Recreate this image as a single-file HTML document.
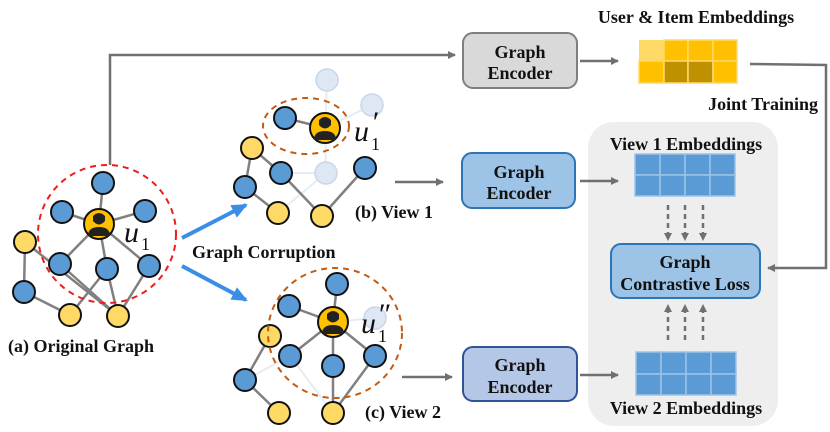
<!DOCTYPE html>
<html><head><meta charset="utf-8"><style>
html,body{margin:0;padding:0;background:#fff;}
svg{display:block;font-family:"Liberation Serif",serif;}
.b{font-weight:bold;font-size:18px;fill:#111;}
.u{font-size:30px;font-style:italic;fill:#111;}
.s{font-size:18px;fill:#111;}
</style></head><body>
<svg width="830" height="432" viewBox="0 0 830 432" xmlns="http://www.w3.org/2000/svg">
<defs>
<marker id="ar" markerWidth="8" markerHeight="8" refX="7" refY="4" orient="auto" markerUnits="userSpaceOnUse"><path d="M0,0 L8,4 L0,8 z" fill="#707070"/></marker>
<marker id="bl" markerWidth="16" markerHeight="14" refX="14" refY="7" orient="auto" markerUnits="userSpaceOnUse"><path d="M0,0 L16,7 L0,14 z" fill="#3a8ee6"/></marker>
<g id="user"><circle r="15" fill="#ffc000" stroke="#111" stroke-width="2"/><path d="M-6,-8 q6,-6 12,0 v5 q-6,7 -12,0z" fill="#222"/><path d="M-11,12 q0,-9 11,-9 q11,0 11,9 z" fill="#222"/></g>
</defs>
<rect x="588" y="122" width="190" height="304" rx="26" fill="#eeeeee"/>
<g stroke="#707070" stroke-width="2.5" fill="none">
<path d="M110 165 V55 H455" marker-end="url(#ar)"/>
<path d="M580 61 H618" marker-end="url(#ar)"/>
<path d="M750 64 L826 65 V268 H768" marker-end="url(#ar)"/>
<path d="M395 182 H443" marker-end="url(#ar)"/>
<path d="M580 181 H618" marker-end="url(#ar)"/>
<path d="M402 377 H452" marker-end="url(#ar)"/>
<path d="M580 375 H618" marker-end="url(#ar)"/>
<g stroke-dasharray="5,4"><path d="M668 205 V240" marker-end="url(#ar)"/><path d="M685 205 V240" marker-end="url(#ar)"/><path d="M703 205 V240" marker-end="url(#ar)"/>
<path d="M668 340 V305" marker-end="url(#ar)"/><path d="M685 340 V305" marker-end="url(#ar)"/><path d="M703 340 V305" marker-end="url(#ar)"/></g>
</g>
<path d="M182 238 L246 205" stroke="#3a8ee6" stroke-width="4" marker-end="url(#bl)"/>
<path d="M182 266 L246 300" stroke="#3a8ee6" stroke-width="4" marker-end="url(#bl)"/>
<rect x="463" y="33" width="114" height="55" rx="10" fill="#d9d9d9" stroke="#7f7f7f" stroke-width="2"/>
<text class="b" x="520" y="58" text-anchor="middle">Graph</text><text class="b" x="520" y="79" text-anchor="middle">Encoder</text>
<rect x="462" y="153" width="113" height="55" rx="10" fill="#9dc3e6" stroke="#2e75b6" stroke-width="2"/>
<text class="b" x="519" y="178" text-anchor="middle">Graph</text><text class="b" x="519" y="199" text-anchor="middle">Encoder</text>
<rect x="463" y="347" width="114" height="54" rx="10" fill="#b4c7e7" stroke="#2f5597" stroke-width="2"/>
<text class="b" x="520" y="371" text-anchor="middle">Graph</text><text class="b" x="520" y="393" text-anchor="middle">Encoder</text>
<rect x="611" y="244" width="149" height="54" rx="10" fill="#9dc3e6" stroke="#2e75b6" stroke-width="2"/>
<text class="b" x="685" y="268" text-anchor="middle">Graph</text><text class="b" x="685" y="290" text-anchor="middle">Contrastive Loss</text>
<g stroke-width="1.5">
<rect x="639" y="40" width="98" height="43" fill="#ffd966"/>
<g stroke="#ffd966"><rect x="664" y="40" width="24" height="21" fill="#ffc000"/><rect x="688" y="40" width="25" height="21" fill="#ffc000"/><rect x="713" y="40" width="24" height="21" fill="#ffc000"/>
<rect x="639" y="61" width="25" height="22" fill="#ffc000"/><rect x="664" y="61" width="24" height="22" fill="#bf9000"/><rect x="688" y="61" width="25" height="22" fill="#bf9000"/><rect x="713" y="61" width="24" height="22" fill="#ffc000"/></g>
<g fill="#5b9bd5" stroke="#9dc3e6">
<rect x="635" y="154" width="25" height="21"/><rect x="660" y="154" width="25" height="21"/><rect x="685" y="154" width="25" height="21"/><rect x="710" y="154" width="25" height="21"/>
<rect x="635" y="175" width="25" height="21"/><rect x="660" y="175" width="25" height="21"/><rect x="685" y="175" width="25" height="21"/><rect x="710" y="175" width="25" height="21"/>
<rect x="636" y="352" width="25" height="22"/><rect x="661" y="352" width="25" height="22"/><rect x="686" y="352" width="25" height="22"/><rect x="711" y="352" width="25" height="22"/>
<rect x="636" y="374" width="25" height="21"/><rect x="661" y="374" width="25" height="21"/><rect x="686" y="374" width="25" height="21"/><rect x="711" y="374" width="25" height="21"/></g>
</g>
<text class="b" x="696" y="23" text-anchor="middle">User &amp; Item Embeddings</text>
<text class="b" x="818" y="110" text-anchor="end">Joint Training</text>
<text class="b" x="686" y="150" text-anchor="middle">View 1 Embeddings</text>
<text class="b" x="686" y="414" text-anchor="middle">View 2 Embeddings</text>
<text class="b" x="8" y="352">(a) Original Graph</text>
<text class="b" x="192" y="258">Graph Corruption</text>
<text class="b" x="355" y="218">(b) View 1</text>
<text class="b" x="365" y="418">(c) View 2</text>
<g stroke="#808080" stroke-width="2.5">
<line x1="103" y1="183" x2="99" y2="224"/><line x1="62" y1="212" x2="99" y2="224"/><line x1="145" y1="211" x2="99" y2="224"/>
<line x1="99" y1="224" x2="60" y2="264"/><line x1="99" y1="224" x2="107" y2="269"/><line x1="99" y1="224" x2="149" y2="266"/>
<line x1="25" y1="242" x2="24" y2="292"/><line x1="25" y1="242" x2="118" y2="316"/><line x1="24" y1="292" x2="70" y2="315"/>
<line x1="60" y1="264" x2="118" y2="316"/><line x1="107" y1="269" x2="70" y2="315"/><line x1="107" y1="269" x2="118" y2="316"/><line x1="149" y1="266" x2="118" y2="316"/>
</g>
<circle cx="107" cy="234" r="69" fill="none" stroke="#ee1c1c" stroke-width="2" stroke-dasharray="6,5"/>
<g stroke="#111" stroke-width="2">
<g fill="#5b9bd5"><circle cx="103" cy="183" r="11"/><circle cx="62" cy="212" r="11"/><circle cx="145" cy="211" r="11"/><circle cx="60" cy="264" r="11"/><circle cx="107" cy="269" r="11"/><circle cx="149" cy="266" r="11"/><circle cx="24" cy="292" r="11"/></g>
<g fill="#ffd966"><circle cx="25" cy="242" r="11"/><circle cx="70" cy="315" r="11"/><circle cx="118" cy="316" r="11"/></g>
</g>
<use href="#user" x="99" y="224"/>
<text class="u" x="124" y="242">u</text><text class="s" x="141" y="250">1</text>
<g stroke="#e6ecf3" stroke-width="2"><line x1="325" y1="128" x2="327" y2="80"/><line x1="325" y1="128" x2="372" y2="105"/><line x1="325" y1="128" x2="326" y2="173"/><line x1="326" y1="173" x2="281" y2="173"/><line x1="326" y1="173" x2="278" y2="213"/></g>
<g fill="#dde8f4" stroke="#c8d6e6" stroke-width="1.5"><circle cx="327" cy="80" r="11"/><circle cx="372" cy="105" r="11"/><circle cx="326" cy="173" r="11"/></g>
<g stroke="#808080" stroke-width="2.5"><line x1="252" y1="148" x2="245" y2="187"/><line x1="252" y1="148" x2="281" y2="173"/><line x1="245" y1="187" x2="278" y2="213"/><line x1="281" y1="173" x2="322" y2="216"/><line x1="322" y1="216" x2="365" y2="168"/><line x1="285" y1="118" x2="325" y2="128"/></g>
<ellipse cx="306" cy="126" rx="43" ry="28" fill="none" stroke="#c55a11" stroke-width="2" stroke-dasharray="6,5"/>
<g stroke="#111" stroke-width="2"><g fill="#5b9bd5"><circle cx="285" cy="118" r="11"/><circle cx="281" cy="173" r="11"/><circle cx="245" cy="187" r="11"/><circle cx="365" cy="168" r="11"/></g>
<g fill="#ffd966"><circle cx="252" cy="148" r="11"/><circle cx="278" cy="213" r="11"/><circle cx="322" cy="216" r="11"/></g></g>
<use href="#user" x="325" y="128"/>
<text class="u" x="354" y="141">u</text><text class="s" x="371" y="150">1</text><text class="u" x="371" y="132" font-size="26">′</text>
<g stroke="#e6ecf3" stroke-width="2"><line x1="333" y1="322" x2="375" y2="318"/><line x1="290" y1="356" x2="333" y2="413"/><line x1="290" y1="356" x2="245" y2="380"/></g>
<circle cx="375" cy="318" r="11" fill="#dde8f4" stroke="#c8d6e6" stroke-width="1.5"/>
<g stroke="#808080" stroke-width="2.5"><line x1="337" y1="284" x2="333" y2="322"/><line x1="289" y1="306" x2="333" y2="322"/><line x1="333" y1="322" x2="290" y2="356"/><line x1="333" y1="322" x2="333" y2="366"/><line x1="333" y1="322" x2="375" y2="356"/><line x1="270" y1="336" x2="245" y2="380"/><line x1="245" y1="380" x2="279" y2="413"/><line x1="333" y1="366" x2="333" y2="413"/><line x1="375" y1="356" x2="333" y2="413"/></g>
<g stroke="#111" stroke-width="2"><g fill="#5b9bd5"><circle cx="337" cy="284" r="11"/><circle cx="289" cy="306" r="11"/><circle cx="290" cy="356" r="11"/><circle cx="333" cy="366" r="11"/><circle cx="375" cy="356" r="11"/><circle cx="245" cy="380" r="11"/></g>
<g fill="#ffd966"><circle cx="270" cy="336" r="11"/><circle cx="279" cy="413" r="11"/><circle cx="333" cy="413" r="11"/></g></g>
<ellipse cx="335" cy="333" rx="67" ry="65" fill="none" stroke="#c55a11" stroke-width="2" stroke-dasharray="6,5"/>
<use href="#user" x="333" y="322"/>
<text class="u" x="361" y="333">u</text><text class="s" x="378" y="342">1</text><text class="u" x="377" y="324" font-size="26">″</text>
</svg>
</body></html>
